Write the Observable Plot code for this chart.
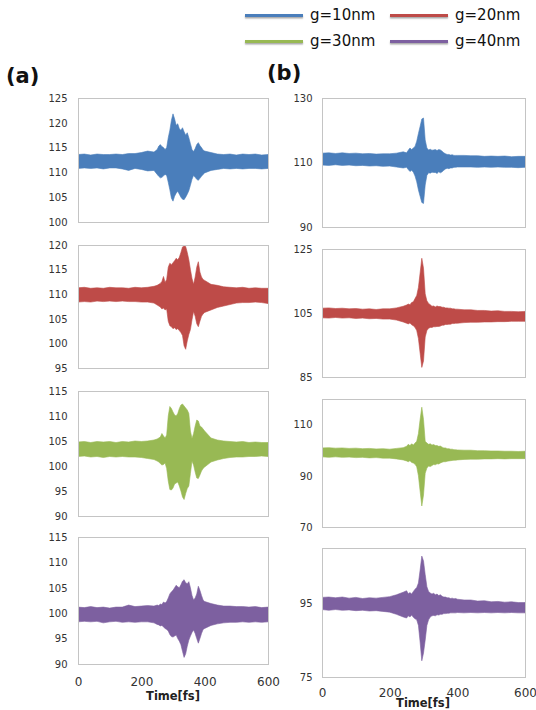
<!DOCTYPE html>
<html><head><meta charset="utf-8">
<script src="https://cdn.jsdelivr.net/npm/d3@7"></script>
<script src="https://cdn.jsdelivr.net/npm/@observablehq/plot@0.6"></script>
<style>
body{margin:0;background:#fff;}
#root{position:relative;width:536px;height:710px;overflow:hidden;font-family:"DejaVu Sans",sans-serif;color:#222;}
.abs{position:absolute;}
.panel-label{font-weight:bold;font-size:21px;line-height:1;color:#111;}
.leg-line{position:absolute;height:3px;width:58px;box-shadow:0 1.5px 1.5px rgba(0,0,0,0.35);}
.leg-text{position:absolute;font-size:15px;line-height:1;color:#111;white-space:nowrap;}
.xlabel{position:absolute;font-weight:bold;font-size:11.5px;line-height:1;color:#222;transform:translate(-50%,-50%);white-space:nowrap;}
</style></head><body><div id="root"></div>
<script>
// ---- data ----
const time = [0,20,40,60,80,100,120,140,160,180,200,220,240,250,255,260,265,270,275,280,285,290,295,300,305,310,315,320,325,330,335,340,345,350,355,360,365,370,375,380,385,390,395,400,420,440,460,480,500,520,540,560,580,600];
const seriesNames = ["g=10nm","g=20nm","g=30nm","g=40nm"];
const seriesColors = ["#4a7ebb","#be4b48","#98b954","#7d60a0"];
const xTicks = [0,200,400,600];

// (a) column: upper / lower envelopes of the oscillating signal
const a10U = [113.6,113.7,113.5,113.7,113.6,113.6,113.7,113.6,113.8,113.8,114.0,114.3,114.1, 114.6,
  115.3,115.6,115.2,115.0,114.6,115.0,117.0,118.5,120.5,121.8,120.8,119.5,119.8,118.8,118.5,119.0,118.2,117.5,118.0,117.0,115.8,114.6,114.2,114.8,115.6,116.0,115.4,115.0,114.5,114.3,
  114.0,113.7,113.6,113.7,113.5,113.7,113.6,113.7,113.5,113.6];
const a10L = [110.8,110.9,110.8,110.9,110.7,110.9,110.9,110.7,110.4,110.8,110.6,110.3,110.4, 109.6,
  109.2,108.9,109.0,109.3,109.6,109.4,108.0,106.5,104.8,104.2,105.2,105.8,106.2,105.6,105.0,104.6,104.5,105.0,105.6,106.3,107.4,108.6,109.4,109.0,108.6,108.4,108.8,109.2,109.6,109.9,
  110.4,110.6,110.8,110.7,110.8,110.7,110.8,110.8,110.7,110.8];
const a20U = [111.3,111.4,111.2,111.3,111.2,111.4,111.3,111.3,111.2,111.4,111.3,111.4,111.6, 111.8,
  112.0,112.2,112.6,113.6,112.4,113.0,115.5,116.3,116.0,116.4,116.8,117.3,117.0,117.5,118.5,119.6,119.8,119.7,118.5,117.0,115.0,113.2,112.0,113.5,115.5,116.6,114.5,113.5,113.0,112.8,
  112.0,111.8,111.5,111.4,111.3,111.4,111.2,111.3,111.2,111.2];
const a20L = [108.4,108.5,108.4,108.6,108.5,108.6,108.5,108.6,108.5,108.5,108.4,108.4,108.2, 107.8,
  107.6,107.4,107.0,107.2,106.8,107.0,104.5,103.6,103.4,103.0,103.2,102.8,103.0,102.6,102.2,101.6,99.5,98.8,100.5,101.8,102.8,104.8,106.5,105.5,104.0,103.4,104.5,105.5,106.0,106.3,
  106.8,107.3,107.6,107.9,108.2,108.3,108.3,108.4,108.3,108.1];
const a30U = [104.8,104.9,104.7,104.9,104.8,104.9,104.7,104.9,104.8,105.0,104.9,105.0,105.2, 105.4,
  105.6,105.8,106.5,106.0,105.6,106.2,110.0,111.9,111.5,110.8,110.2,110.0,110.5,111.5,112.2,112.4,112.0,111.6,111.2,110.5,107.0,105.5,106.5,108.0,109.2,109.0,108.0,107.8,107.4,107.0,
  105.6,105.2,105.0,104.9,104.8,104.9,104.7,104.8,104.7,104.7];
const a30L = [101.9,102.0,101.8,101.9,101.7,101.9,101.8,101.9,101.8,101.8,101.7,101.5,101.3, 101.0,
  100.8,100.5,100.2,100.3,100.6,99.5,97.0,95.3,95.2,95.6,96.4,96.6,96.8,96.0,95.0,93.8,93.3,94.5,95.5,96.0,98.5,101.0,100.2,98.8,97.6,97.5,98.2,99.0,99.5,99.8,
  100.8,101.2,101.5,101.7,101.8,101.8,101.9,101.9,102.0,101.9];
const a40U = [101.2,101.1,101.3,101.1,101.2,101.0,101.2,101.2,101.6,101.3,101.4,101.5,101.4, 101.6,
  101.5,101.8,101.7,102.2,102.0,102.3,103.0,103.8,104.2,104.5,105.0,105.5,105.2,105.0,105.6,106.3,106.6,106.0,105.8,106.2,105.0,103.5,102.6,103.0,103.8,105.3,104.5,103.5,102.6,102.3,
  101.9,101.6,101.4,101.4,101.3,101.3,101.2,101.3,101.1,101.2];
const a40L = [98.3,98.4,98.3,98.4,98.1,98.3,98.4,98.2,98.3,98.2,98.3,98.3,98.1, 97.8,
  97.7,97.5,97.6,97.3,97.0,96.8,96.5,95.8,95.4,95.3,95.5,95.7,95.0,94.5,93.8,92.5,91.3,92.0,93.5,94.7,95.5,96.2,96.7,96.0,95.0,94.1,95.0,96.0,96.8,97.0,
  97.6,97.9,98.1,98.2,98.2,98.3,98.2,98.3,98.2,98.3];

// (b) column
const b10U = [112.9,113.0,112.8,113.0,112.8,112.9,112.7,112.8,112.6,112.7,112.7,112.9,113.3, 113.0,
  113.8,114.5,114.0,114.5,115.0,116.6,119.0,121.2,123.5,123.8,117.0,114.5,113.9,114.1,113.8,113.9,114.0,113.7,114.0,113.9,113.5,113.0,112.7,112.5,112.5,112.3,112.4,112.2,112.2,112.2,
  112.2,112.1,112.1,111.9,112.0,111.9,112.0,111.8,111.9,111.9];
const b10L = [109.2,109.1,109.3,109.1,109.2,109.0,109.1,108.9,109.0,108.8,108.9,108.6,108.3, 108.5,
  107.8,107.2,107.6,107.0,105.8,104.0,101.5,99.5,97.6,97.3,103.0,106.0,106.8,106.7,107.0,106.9,106.9,106.6,107.1,106.8,107.1,107.6,108.0,108.2,108.1,108.3,108.3,108.5,108.5,108.6,
  108.6,108.6,108.5,108.6,108.5,108.6,108.5,108.5,108.4,108.5];
const b20U = [106.5,106.6,106.4,106.5,106.3,106.4,106.2,106.3,106.1,106.3,106.3,106.6,107.1, 107.5,
  107.8,107.6,108.3,108.5,109.5,110.5,113.0,117.5,122.1,119.0,111.0,108.8,108.0,107.6,107.1,107.2,106.9,107.2,107.0,107.0,106.8,106.8,106.6,106.6,106.5,106.5,106.3,106.3,106.2,106.2,
  106.0,106.0,105.8,105.8,105.6,105.7,105.5,105.5,105.4,105.5];
const b20L = [103.5,103.4,103.6,103.4,103.5,103.3,103.4,103.2,103.3,103.1,103.1,102.8,102.2, 101.8,
  101.6,101.9,101.3,101.0,100.5,99.5,97.0,92.5,88.0,90.0,97.5,99.5,100.2,100.5,100.5,100.7,100.7,100.8,100.8,100.9,101.2,101.2,101.4,101.4,101.5,101.5,101.7,101.7,101.8,101.8,
  102.0,102.1,102.1,102.2,102.2,102.3,102.3,102.4,102.4,102.4];
const b30U = [100.9,101.0,100.8,100.9,100.7,100.8,100.6,100.7,100.5,100.6,100.4,100.7,101.0, 101.5,
  102.3,101.8,102.5,102.0,102.8,103.5,106.5,112.0,116.8,112.0,103.5,102.8,102.3,102.5,102.0,102.2,101.8,101.8,101.5,101.6,101.2,100.9,100.9,100.6,100.6,100.4,100.4,100.2,100.2,100.1,
  100.0,100.0,99.8,99.8,99.7,99.7,99.6,99.6,99.5,99.6];
const b30L = [97.4,97.2,97.4,97.2,97.3,97.1,97.2,97.0,97.1,96.9,96.9,96.6,96.2, 95.8,
  95.5,95.9,95.2,95.0,94.5,93.5,90.0,84.0,78.2,82.5,91.0,93.0,93.8,93.6,94.0,94.4,94.3,94.7,94.6,95.0,95.3,95.5,95.5,95.7,95.8,95.9,96.0,96.1,96.1,96.2,
  96.4,96.5,96.5,96.6,96.6,96.7,96.6,96.7,96.7,96.7];
const b40U = [96.6,96.7,96.5,96.7,96.4,96.6,96.3,96.5,96.4,96.6,96.8,97.3,98.0, 98.4,
  97.6,97.9,97.5,98.2,98.8,99.3,100.5,104.0,107.8,106.5,102.8,99.5,98.2,97.8,97.5,97.7,97.3,97.5,97.1,97.3,96.9,96.7,96.7,96.5,96.5,96.3,96.4,96.2,96.3,96.1,
  95.9,95.9,95.6,95.7,95.4,95.5,95.3,95.4,95.2,95.2];
const b40L = [93.3,93.1,93.3,93.1,93.2,93.0,93.1,92.9,93.0,92.8,92.6,92.0,91.3, 91.0,
  91.6,91.3,91.8,91.2,90.8,90.5,89.0,84.5,79.4,81.5,85.0,89.0,90.5,91.3,91.6,91.7,91.6,91.9,91.8,92.0,92.0,92.2,92.2,92.3,92.3,92.4,92.4,92.4,92.4,92.5,
  92.4,92.5,92.4,92.5,92.4,92.5,92.4,92.5,92.4,92.4];

// y scales per panel
const yDomainsA = [[100,125],[95,120],[90,115],[90,115]];
const yTicksA = [[100,105,110,115,120,125],[95,100,105,110,115,120],[90,95,100,105,110,115],[90,95,100,105,110,115]];
const yDomainsB = [[90,130],[85,125],[70,120],[75,110]];
const yTicksB = [[90,110,130],[85,105,125],[70,90,110],[75,95]];

const upperA = [a10U,a20U,a30U,a40U], lowerA = [a10L,a20L,a30L,a40L];
const upperB = [b10U,b20U,b30U,b40U], lowerB = [b10L,b20L,b30L,b40L];

// ---- layout ----
const root = document.getElementById("root");
const framesA = [[98,222],[245,368],[391,516],[537,664]];
const framesB = [[98,227],[249,377],[399,527],[548,677]];
const colA = {svgLeft:0, ml:78, pw:190, mr:6, yPad:11, xPad:13};
const colB = {svgLeft:270, ml:52, pw:203, mr:8, yPad:10, xPad:11};

function drawPanel(col, frame, upper, lower, color, yDomain, yTicks, last) {
  const data = time.map((t, i) => ({t, hi: upper[i], lo: lower[i]}));
  const mt = 8, mb = last ? 45 : 6;
  const h = frame[1] - frame[0];
  const marks = [
    Plot.areaY(data, {x: "t", y1: "lo", y2: "hi", fill: color, stroke: color, strokeWidth: 0.6, clip: true}),
    Plot.axisY({ticks: yTicks, tickSize: 0, tickPadding: col.yPad, fontSize: 10, label: null, tickFormat: d => String(d)}),
    Plot.frame({stroke: "#c4c4c4"})
  ];
  if (last) marks.push(Plot.axisX({ticks: xTicks, tickSize: 0, tickPadding: col.xPad, fontSize: 12, label: null, tickFormat: d => String(d)}));
  const svg = Plot.plot({
    width: col.ml + col.pw + col.mr,
    height: mt + h + mb,
    marginLeft: col.ml, marginRight: col.mr, marginTop: mt, marginBottom: mb,
    x: {domain: [0, 600], axis: last ? undefined : null},
    y: {domain: yDomain},
    style: {fontFamily: "'DejaVu Sans', sans-serif", color: "#333", background: "transparent", overflow: "visible"},
    marks
  });
  svg.style.position = "absolute";
  svg.style.left = col.svgLeft + "px";
  svg.style.top = (frame[0] - mt) + "px";
  root.appendChild(svg);
}

for (let i = 0; i < 4; i++) {
  drawPanel(colA, framesA[i], upperA[i], lowerA[i], seriesColors[i], yDomainsA[i], yTicksA[i], i === 3);
  drawPanel(colB, framesB[i], upperB[i], lowerB[i], seriesColors[i], yDomainsB[i], yTicksB[i], i === 3);
}

function addDiv(cls, text, left, top) {
  const d = document.createElement("div");
  d.className = cls; d.textContent = text;
  d.style.left = left + "px"; d.style.top = top + "px";
  root.appendChild(d);
  return d;
}
// panel letters
addDiv("abs panel-label", "(a)", 6, 66);
addDiv("abs panel-label", "(b)", 267, 63);

// x labels
addDiv("xlabel", "Time[fs]", 173, 697);
addDiv("xlabel", "Time[fs]", 423, 704);

// legend
const legPos = [[245,16],[390,16],[245,42],[390,42]];
seriesNames.forEach((name, i) => {
  const [x, y] = legPos[i];
  const ln = document.createElement("div");
  ln.className = "leg-line";
  ln.style.left = x + "px"; ln.style.top = (y - 2) + "px";
  ln.style.background = seriesColors[i];
  root.appendChild(ln);
  addDiv("leg-text", name, x + 65, y - 8);
});
</script>
</body></html>
